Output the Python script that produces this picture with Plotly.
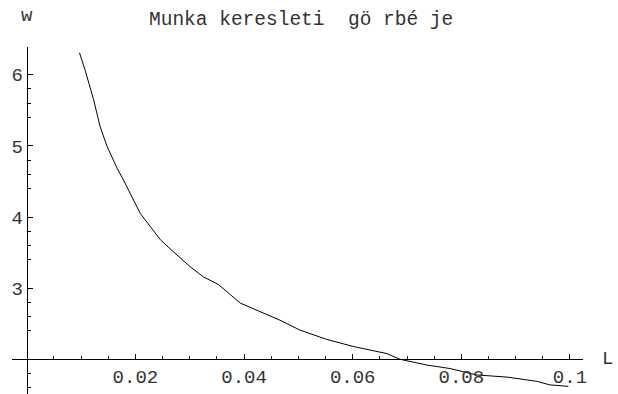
import plotly.graph_objects as go

# Labour demand curve: wage w as a function of labour L
L = [0.0097, 0.0108, 0.0123, 0.0135, 0.0148, 0.0166, 0.0178, 0.0197, 0.0209,
     0.0227, 0.0246, 0.0270, 0.0301, 0.0325, 0.0353, 0.0393, 0.0430, 0.0466,
     0.0503, 0.0552, 0.0601, 0.0663, 0.0687, 0.0736, 0.0779, 0.0828, 0.0884,
     0.0939, 0.0963, 0.0997]
w = [6.31, 6.05, 5.65, 5.27, 4.99, 4.69, 4.52, 4.24, 4.05,
     3.87, 3.68, 3.51, 3.30, 3.16, 3.05, 2.79, 2.67, 2.55,
     2.41, 2.28, 2.18, 2.08, 2.00, 1.92, 1.87, 1.78, 1.75,
     1.69, 1.64, 1.62]

x_ticks = [0.02, 0.04, 0.06, 0.08, 0.1]
x_tick_text = ["0.02", "0.04", "0.06", "0.08", "0.1"]
y_ticks = [3, 4, 5, 6]
y_tick_text = ["3", "4", "5", "6"]

title_text = "Munka keresleti  gö rbé je"
x_label = "L"
y_label = "w"

# axes cross at (0, 2)
origin_x, origin_y = 0.0, 2.0
x_range = [-0.00272, 0.1024]
y_range = [1.512, 6.39]

x_minor = [round(i * 0.005, 3) for i in range(1, 21) if i % 4 != 0]
y_minor = [round(1.6 + i * 0.2, 1) for i in range(0, 25) if (i + 2) % 5 != 0]

FONT = "Liberation Mono"
TEXT_COLOR = "#333"

fig = go.Figure()
fig.add_trace(go.Scatter(x=L, y=w, mode="lines",
                         line=dict(color="black", width=1),
                         hoverinfo="skip"))

fig.update_layout(
    width=618, height=394,
    margin=dict(l=12, r=35, t=47, b=0),
    paper_bgcolor="white", plot_bgcolor="white",
    showlegend=False,
    font=dict(family=FONT, size=19, color=TEXT_COLOR),
    xaxis=dict(
        range=x_range, showgrid=False, zeroline=False,
        showline=True, linecolor="black", linewidth=1,
        anchor="free",
        position=(origin_y - y_range[0]) / (y_range[1] - y_range[0]),
        tickmode="array", tickvals=x_ticks, ticktext=x_tick_text,
        ticks="inside", ticklen=5, tickcolor="black", tickwidth=1,
        minor=dict(tickmode="array", tickvals=x_minor, ticks="inside",
                   ticklen=3, tickcolor="black", tickwidth=1),
        tickfont=dict(family=FONT, size=19, color=TEXT_COLOR),
    ),
    yaxis=dict(
        range=y_range, showgrid=False, zeroline=False,
        showline=True, linecolor="black", linewidth=1,
        anchor="free",
        position=(origin_x - x_range[0]) / (x_range[1] - x_range[0]),
        tickmode="array", tickvals=y_ticks, ticktext=y_tick_text,
        ticks="inside", ticklen=5, tickcolor="black", tickwidth=1,
        minor=dict(tickmode="array", tickvals=y_minor, ticks="inside",
                   ticklen=3, tickcolor="black", tickwidth=1),
        tickfont=dict(family=FONT, size=19, color=TEXT_COLOR),
    ),
)

fig.add_annotation(text=title_text, xref="paper", yref="paper",
                   x=(147 - 12) / 571, y=(394 - 20) / 347,
                   xanchor="left", yanchor="middle", showarrow=False,
                   font=dict(family=FONT, size=19.5, color=TEXT_COLOR))
fig.add_annotation(text=y_label, xref="x", yref="paper",
                   x=origin_x, y=(394 - 16) / 347,
                   xanchor="center", yanchor="middle", showarrow=False,
                   font=dict(family=FONT, size=19, color=TEXT_COLOR))
fig.add_annotation(text=x_label, xref="paper", yref="y",
                   x=(607 - 12) / 571, y=origin_y,
                   xanchor="center", yanchor="middle", showarrow=False,
                   font=dict(family=FONT, size=19, color=TEXT_COLOR))

fig.write_html("out.html")
